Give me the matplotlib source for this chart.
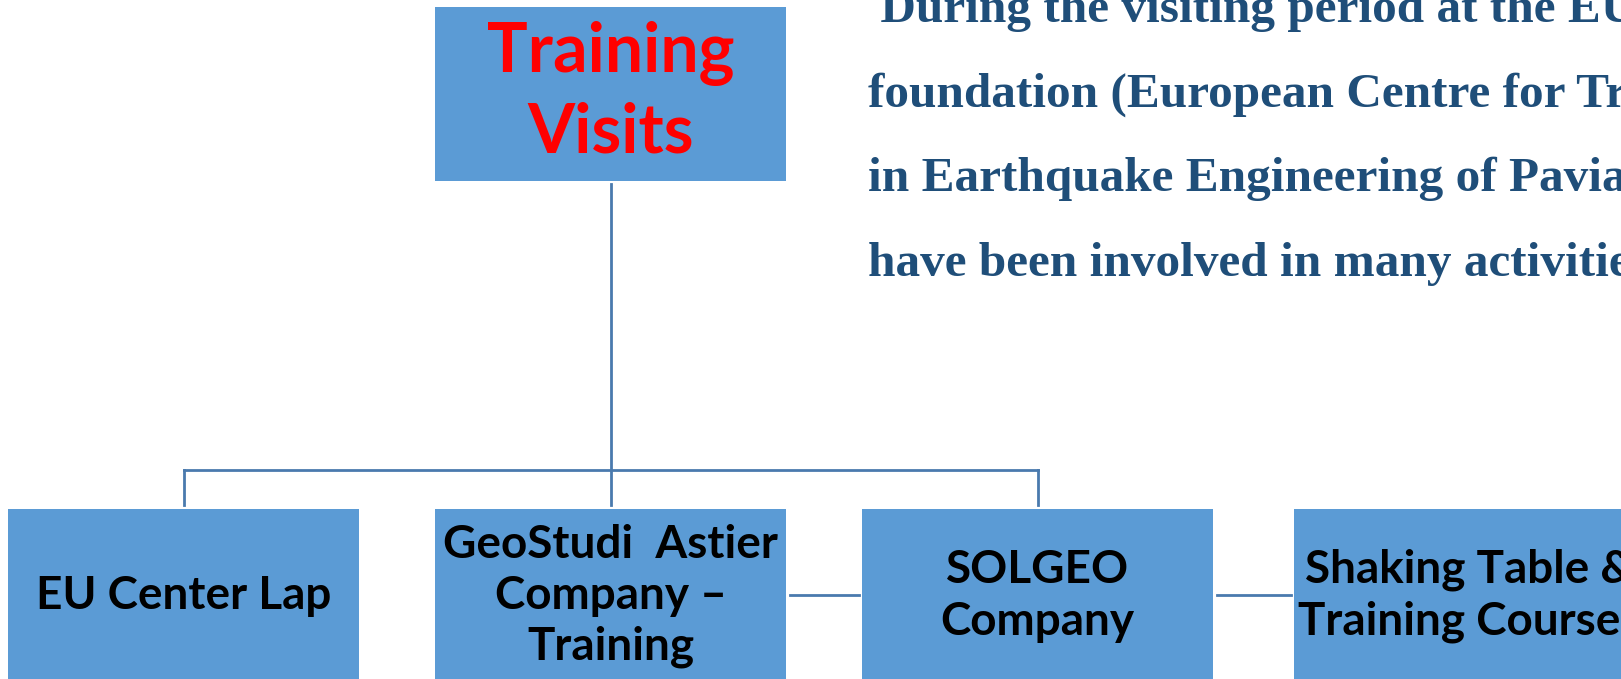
import matplotlib
matplotlib.use("Agg")
import matplotlib.pyplot as plt
from matplotlib.patches import Rectangle

# ---- content ----
top_label = ["Training", "Visits"]
child_labels = [
    ["EU Center Lap"],
    ["GeoStudi  Astier", "Company \u2013", "Training"],
    ["SOLGEO", "Company"],
    ["Shaking Table &", "Training Courses"],
]
body_lines = [
    " During the visiting period at the EUCENTRE",
    "foundation (European Centre for Training",
    "in Earthquake Engineering of Pavia, Italy)",
    "have been involved in many activities",
]

# ---- layout (pixel space) ----
W, H = 1621, 679
BOX_FILL = "#5B9BD5"
LINE_C = "#4A7AAE"
TEXT_BLUE = "#1F4E79"

fig = plt.figure(figsize=(W / 100, H / 100), dpi=100)
ax = fig.add_axes([0, 0, 1, 1])
ax.set_xlim(0, W)
ax.set_ylim(H, 0)
ax.axis("off")

box_w = 351
top_box = (435, 7, box_w, 174)
child_x = [8, 435, 862, 1294]
child_y, child_h = 509, 200

def box(x, y, w, h):
    ax.add_patch(Rectangle((x, y), w, h, facecolor=BOX_FILL, edgecolor="none", zorder=2))

box(*top_box)
for cx in child_x:
    box(cx, child_y, box_w, child_h)

# connectors
lw = 2.0
cx_top = top_box[0] + box_w / 2
ax.plot([cx_top, cx_top], [184, 505], color=LINE_C, lw=lw, zorder=1)
bus_y = 470
left_c = child_x[0] + box_w / 2
right_c = child_x[2] + box_w / 2
ax.plot([left_c, right_c], [bus_y, bus_y], color=LINE_C, lw=lw, zorder=1)
ax.plot([left_c, left_c], [bus_y, 505], color=LINE_C, lw=lw, zorder=1)
ax.plot([right_c, right_c], [bus_y, 505], color=LINE_C, lw=lw, zorder=1)
ax.plot([790, 859], [595, 595], color=LINE_C, lw=lw, zorder=1)
ax.plot([1217, 1291], [595, 595], color=LINE_C, lw=lw, zorder=1)

font_box = ["Lato", "DejaVu Sans"]

# top box text
ax.text(cx_top, 93, "\n".join(top_label), color="#FF0000", fontsize=49,
        fontweight="bold", family=font_box, ha="center", va="center",
        linespacing=1.3, zorder=3)

# child texts
for cx, lines in zip(child_x, child_labels):
    ax.text(cx + box_w / 2, 596, "\n".join(lines), color="black", fontsize=33,
            fontweight="bold", family=font_box, ha="center", va="center",
            linespacing=1.27, zorder=3)

# right body text
for i, line in enumerate(body_lines):
    ax.text(868, 10 + i * 84.5, line, color=TEXT_BLUE, fontsize=35.5,
            fontweight="bold", family=["Liberation Serif", "DejaVu Serif"],
            ha="left", va="center", zorder=3)

fig.savefig("out.png", dpi=100)
